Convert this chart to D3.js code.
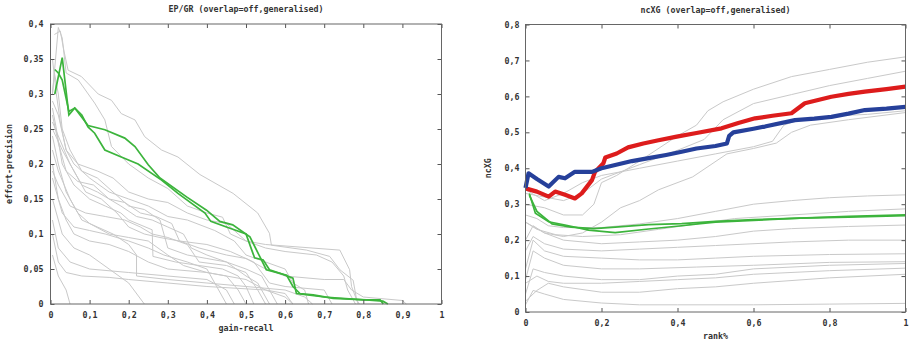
<!DOCTYPE html>
<html>
<head>
<meta charset="utf-8">
<script src="https://cdn.jsdelivr.net/npm/d3@7"></script>
<style>
  body { margin: 0; background: #fff; }
  text { font-family: "DejaVu Sans Mono", monospace; font-weight: bold; font-size: 8.3px; fill: #333; }
  .frame { fill: none; stroke: #666; stroke-width: 1; }
</style>
</head>
<body>
<svg id="chart" width="913" height="341"></svg>
<script>
// ---- left panel: EP/GR
var epTicksX = [0, 0.1, 0.2, 0.3, 0.4, 0.5, 0.6, 0.7, 0.8, 0.9, 1];
var epTickLabelsX = ["0", "0,1", "0,2", "0,3", "0,4", "0,5", "0,6", "0,7", "0,8", "0,9", "1"];
var epTicksY = [0, 0.05, 0.1, 0.15, 0.2, 0.25, 0.3, 0.35, 0.4];
var epTickLabelsY = ["0", "0,05", "0,1", "0,15", "0,2", "0,25", "0,3", "0,35", "0,4"];

var epGreen = [
  [[0.011,0.30],[0.03,0.352],[0.047,0.27],[0.062,0.28],[0.08,0.27],[0.096,0.253],[0.113,0.244],[0.139,0.22],[0.181,0.21],[0.224,0.2],[0.284,0.177],[0.326,0.158],[0.395,0.13],[0.41,0.118],[0.45,0.11],[0.5,0.1],[0.518,0.072],[0.522,0.066],[0.544,0.063],[0.56,0.049],[0.587,0.044],[0.62,0.037],[0.629,0.015],[0.7,0.01],[0.8,0.006],[0.843,0.006],[0.851,0]],
  [[0.011,0.335],[0.02,0.33],[0.03,0.32],[0.047,0.275],[0.062,0.28],[0.096,0.255],[0.139,0.249],[0.19,0.237],[0.216,0.225],[0.25,0.199],[0.28,0.18],[0.348,0.153],[0.399,0.134],[0.433,0.118],[0.466,0.113],[0.51,0.096],[0.535,0.068],[0.552,0.049],[0.604,0.041],[0.62,0.025],[0.638,0.015],[0.672,0.013],[0.723,0.008],[0.808,0.006],[0.85,0.004],[0.863,0]]
];

var epGray = [
  [[0.01,0.385],[0.025,0.39],[0.035,0.36],[0.045,0.334],[0.079,0.325],[0.122,0.3],[0.156,0.291],[0.181,0.272],[0.216,0.263],[0.241,0.239],[0.284,0.22],[0.326,0.21],[0.382,0.185],[0.467,0.158],[0.53,0.13],[0.56,0.101],[0.565,0.084],[0.655,0.077],[0.714,0.068],[0.74,0.049],[0.774,0.034],[0.783,0.006],[0.79,0]],
  [[0.005,0.3],[0.02,0.395],[0.03,0.38],[0.04,0.33],[0.071,0.32],[0.113,0.287],[0.139,0.263],[0.156,0.225],[0.2,0.2],[0.25,0.18],[0.3,0.165],[0.35,0.14],[0.4,0.13],[0.44,0.124],[0.46,0.1],[0.5,0.09],[0.55,0.085],[0.74,0.077],[0.765,0.049],[0.77,0.025],[0.787,0]],
  [[0.005,0.29],[0.02,0.27],[0.04,0.22],[0.06,0.2],[0.1,0.18],[0.15,0.16],[0.2,0.15],[0.25,0.14],[0.3,0.125],[0.35,0.12],[0.42,0.105],[0.47,0.09],[0.5,0.07],[0.55,0.06],[0.6,0.05],[0.62,0.03],[0.65,0.02],[0.66,0]],
  [[0.005,0.26],[0.02,0.24],[0.05,0.2],[0.08,0.17],[0.12,0.16],[0.18,0.14],[0.22,0.125],[0.26,0.12],[0.3,0.11],[0.34,0.1],[0.36,0.08],[0.4,0.07],[0.45,0.06],[0.5,0.04],[0.53,0.03],[0.56,0]],
  [[0.005,0.28],[0.015,0.25],[0.03,0.2],[0.06,0.17],[0.1,0.15],[0.14,0.14],[0.18,0.13],[0.2,0.12],[0.26,0.106],[0.262,0.068],[0.32,0.06],[0.38,0.055],[0.44,0.05],[0.48,0.04],[0.5,0.025],[0.52,0]],
  [[0.005,0.24],[0.02,0.2],[0.04,0.16],[0.07,0.13],[0.1,0.115],[0.15,0.1],[0.2,0.095],[0.25,0.09],[0.3,0.07],[0.34,0.055],[0.4,0.045],[0.45,0.04],[0.48,0.02],[0.5,0]],
  [[0.005,0.2],[0.02,0.15],[0.04,0.12],[0.06,0.1],[0.1,0.09],[0.15,0.085],[0.2,0.075],[0.25,0.06],[0.3,0.05],[0.4,0.045],[0.5,0.035],[0.55,0.02],[0.6,0.015],[0.62,0]],
  [[0.005,0.12],[0.02,0.08],[0.05,0.06],[0.1,0.05],[0.2,0.045],[0.3,0.04],[0.4,0.035],[0.45,0.02],[0.47,0]],
  [[0.005,0.07],[0.02,0.04],[0.04,0.02],[0.05,0]],
  [[0.005,0.15],[0.03,0.1],[0.06,0.08],[0.1,0.07],[0.15,0.05],[0.2,0.03],[0.24,0]],
  [[0.005,0.3],[0.01,0.33],[0.02,0.3],[0.03,0.25],[0.05,0.22],[0.08,0.19],[0.12,0.18],[0.16,0.16],[0.2,0.14],[0.24,0.135],[0.28,0.12],[0.3,0.08],[0.35,0.07],[0.4,0.065],[0.45,0.06],[0.5,0.05],[0.54,0.04],[0.56,0.02],[0.58,0]],
  [[0.005,0.25],[0.03,0.22],[0.06,0.19],[0.09,0.16],[0.13,0.15],[0.17,0.13],[0.2,0.11],[0.24,0.1],[0.28,0.095],[0.33,0.09],[0.38,0.08],[0.45,0.07],[0.5,0.065],[0.55,0.05],[0.6,0.04],[0.7,0.035],[0.75,0.035],[0.77,0.02],[0.8,0.01],[0.9,0.005],[0.91,0]],
  [[0.005,0.22],[0.02,0.19],[0.05,0.15],[0.08,0.12],[0.12,0.11],[0.16,0.1],[0.2,0.085],[0.22,0.07],[0.22,0.04],[0.3,0.035],[0.4,0.03],[0.5,0.025],[0.6,0.02],[0.65,0.01],[0.67,0]],
  [[0.005,0.35],[0.015,0.3],[0.025,0.26],[0.04,0.22],[0.07,0.2],[0.12,0.19],[0.16,0.18],[0.2,0.16],[0.25,0.15],[0.3,0.145],[0.35,0.13],[0.4,0.12],[0.45,0.115],[0.48,0.1],[0.5,0.09],[0.55,0.08],[0.6,0.075],[0.68,0.07],[0.72,0.06],[0.75,0.04],[0.76,0.02],[0.78,0]],
  [[0.005,0.18],[0.03,0.13],[0.06,0.11],[0.1,0.105],[0.14,0.1],[0.2,0.09],[0.25,0.08],[0.29,0.07],[0.35,0.06],[0.4,0.05],[0.42,0.03],[0.44,0.01],[0.45,0]],
  [[0.005,0.1],[0.02,0.06],[0.04,0.045],[0.08,0.04],[0.15,0.038],[0.2,0.035],[0.3,0.03],[0.4,0.025],[0.55,0.02],[0.6,0.01],[0.62,0]],
  [[0.005,0.27],[0.02,0.23],[0.04,0.19],[0.07,0.175],[0.11,0.17],[0.15,0.15],[0.19,0.145],[0.23,0.13],[0.27,0.125],[0.31,0.115],[0.33,0.09],[0.4,0.085],[0.46,0.075],[0.52,0.06],[0.56,0.03],[0.6,0.025],[0.7,0.02],[0.72,0]],
  [[0.005,0.19],[0.02,0.17],[0.05,0.14],[0.09,0.13],[0.14,0.125],[0.19,0.12],[0.23,0.11],[0.26,0.1],[0.3,0.095],[0.35,0.085],[0.38,0.06],[0.45,0.055],[0.5,0.045],[0.53,0.02],[0.55,0]]
];

// ---- right panel: ncXG
var ncTicksX = [0, 0.2, 0.4, 0.6, 0.8, 1];
var ncTickLabelsX = ["0", "0,2", "0,4", "0,6", "0,8", "1"];
var ncTicksY = [0, 0.1, 0.2, 0.3, 0.4, 0.5, 0.6, 0.7, 0.8];
var ncTickLabelsY = ["0", "0,1", "0,2", "0,3", "0,4", "0,5", "0,6", "0,7", "0,8"];

var ncRed = [[0,0.344],[0.03,0.335],[0.061,0.321],[0.078,0.335],[0.104,0.326],[0.13,0.316],[0.148,0.33],[0.175,0.367],[0.183,0.39],[0.205,0.414],[0.21,0.43],[0.24,0.441],[0.27,0.458],[0.31,0.469],[0.35,0.478],[0.398,0.488],[0.45,0.498],[0.516,0.511],[0.56,0.526],[0.604,0.539],[0.65,0.546],[0.7,0.553],[0.735,0.581],[0.77,0.59],[0.805,0.599],[0.85,0.607],[0.893,0.613],[0.95,0.62],[1,0.627]];
var ncBlue = [[0,0.345],[0.008,0.386],[0.03,0.37],[0.061,0.349],[0.087,0.376],[0.104,0.372],[0.13,0.39],[0.175,0.39],[0.2,0.4],[0.236,0.409],[0.28,0.42],[0.324,0.428],[0.37,0.437],[0.411,0.446],[0.45,0.455],[0.5,0.462],[0.53,0.469],[0.536,0.49],[0.547,0.5],[0.6,0.51],[0.63,0.516],[0.709,0.534],[0.76,0.538],[0.805,0.543],[0.85,0.552],[0.893,0.562],[0.95,0.566],[1,0.571]];
var ncGreen = [
  [[0.01,0.33],[0.026,0.275],[0.061,0.251],[0.104,0.242],[0.166,0.228],[0.236,0.221],[0.324,0.231],[0.411,0.24],[0.46,0.246],[0.5,0.25],[0.6,0.255],[0.722,0.261],[0.85,0.266],[1,0.27]],
  [[0.01,0.325],[0.03,0.28],[0.07,0.245],[0.12,0.236],[0.18,0.232],[0.236,0.236],[0.324,0.243],[0.411,0.246],[0.5,0.252],[0.6,0.257],[0.722,0.261],[0.85,0.264],[1,0.268]]
];
var ncGray = [
  [[0,0.3],[0.05,0.29],[0.1,0.27],[0.15,0.27],[0.18,0.3],[0.2,0.36],[0.24,0.38],[0.3,0.42],[0.4,0.49],[0.45,0.52],[0.48,0.56],[0.52,0.585],[0.6,0.62],[0.7,0.655],[0.8,0.675],[0.9,0.695],[1,0.71]],
  [[0,0.33],[0.05,0.32],[0.1,0.31],[0.15,0.33],[0.2,0.37],[0.3,0.41],[0.4,0.45],[0.47,0.48],[0.52,0.535],[0.6,0.58],[0.7,0.605],[0.8,0.63],[0.9,0.65],[1,0.67]],
  [[0,0.25],[0.05,0.22],[0.1,0.21],[0.15,0.22],[0.2,0.25],[0.25,0.29],[0.3,0.31],[0.35,0.34],[0.44,0.376],[0.53,0.44],[0.6,0.455],[0.66,0.47],[0.7,0.5],[0.75,0.52],[0.85,0.535],[1,0.555]],
  [[0,0.34],[0.05,0.31],[0.1,0.33],[0.15,0.36],[0.2,0.38],[0.3,0.4],[0.4,0.42],[0.5,0.44],[0.6,0.46],[0.65,0.475],[0.68,0.52],[0.72,0.535],[0.8,0.545],[0.9,0.55],[1,0.56]],
  [[0,0.27],[0.03,0.26],[0.06,0.24],[0.1,0.235],[0.2,0.235],[0.3,0.245],[0.4,0.26],[0.5,0.28],[0.6,0.3],[0.7,0.31],[0.8,0.318],[0.9,0.323],[1,0.326]],
  [[0,0.25],[0.03,0.23],[0.08,0.215],[0.15,0.21],[0.25,0.215],[0.35,0.23],[0.45,0.245],[0.55,0.26],[0.7,0.27],[0.85,0.28],[1,0.287]],
  [[0,0.2],[0.02,0.24],[0.05,0.22],[0.1,0.2],[0.2,0.19],[0.3,0.195],[0.4,0.2],[0.5,0.21],[0.6,0.225],[0.7,0.232],[0.85,0.238],[1,0.242]],
  [[0,0.17],[0.02,0.21],[0.05,0.19],[0.1,0.175],[0.2,0.17],[0.3,0.175],[0.4,0.18],[0.5,0.185],[0.7,0.195],[0.85,0.2],[1,0.2]],
  [[0,0.12],[0.02,0.2],[0.05,0.17],[0.1,0.155],[0.2,0.15],[0.3,0.145],[0.4,0.145],[0.5,0.15],[0.6,0.155],[0.8,0.16],[1,0.162]],
  [[0,0.09],[0.02,0.17],[0.05,0.15],[0.1,0.13],[0.2,0.12],[0.3,0.12],[0.45,0.125],[0.6,0.13],[0.8,0.138],[1,0.14]],
  [[0,0.05],[0.02,0.12],[0.05,0.11],[0.1,0.1],[0.2,0.09],[0.3,0.09],[0.4,0.1],[0.5,0.105],[0.6,0.12],[0.8,0.13],[1,0.135]],
  [[0,0.08],[0.03,0.1],[0.06,0.085],[0.1,0.08],[0.2,0.08],[0.3,0.085],[0.4,0.09],[0.5,0.095],[0.6,0.105],[0.8,0.115],[1,0.122]],
  [[0,0.03],[0.03,0.06],[0.06,0.08],[0.1,0.07],[0.2,0.055],[0.3,0.055],[0.4,0.065],[0.5,0.07],[0.6,0.08],[0.8,0.095],[1,0.105]],
  [[0,0.02],[0.02,0.06],[0.05,0.05],[0.1,0.035],[0.2,0.025],[0.3,0.02],[0.4,0.02],[0.6,0.02],[0.8,0.022],[1,0.024]]
];

var svg = d3.select("#chart");

function panel(opt) {
  var x = d3.scaleLinear().domain([0, 1]).range([opt.left, opt.right]);
  var y = d3.scaleLinear().domain([0, opt.ymax]).range([opt.bottom, opt.top]);
  var g = svg.append("g");
  var line = d3.line().x(function(d) { return x(d[0]); }).y(function(d) { return y(d[1]); });

  g.selectAll(".gray").data(opt.gray).enter().append("path")
    .attr("d", line).attr("fill", "none")
    .attr("stroke", "#c9c9c9").attr("stroke-width", 1);

  opt.thick.forEach(function(s) {
    g.append("path").datum(s.data).attr("d", line).attr("fill", "none")
      .attr("stroke", s.color).attr("stroke-width", 4.2).attr("stroke-linejoin", "round");
  });

  g.selectAll(".green").data(opt.green).enter().append("path")
    .attr("d", line).attr("fill", "none")
    .attr("stroke", "#3cb43c").attr("stroke-width", 1.7);

  // axes: ticks inward on all four sides, like gnuplot
  var ax = g.append("g");
  ax.append("g").attr("transform", "translate(0," + opt.bottom + ")")
    .call(d3.axisBottom(x).tickValues(opt.xt).tickSize(-4).tickPadding(8)
      .tickFormat(function(d, i) { return opt.xl[i]; }));
  ax.append("g").attr("transform", "translate(0," + opt.top + ")")
    .call(d3.axisTop(x).tickValues(opt.xt).tickSize(-4).tickFormat(""));
  ax.append("g").attr("transform", "translate(" + opt.left + ",0)")
    .call(d3.axisLeft(y).tickValues(opt.yt).tickSize(-4).tickPadding(opt.ypad)
      .tickFormat(function(d, i) { return opt.yl[i]; }));
  ax.append("g").attr("transform", "translate(" + opt.right + ",0)")
    .call(d3.axisRight(y).tickValues(opt.yt).tickSize(-4).tickFormat(""));
  ax.selectAll(".domain").remove();
  ax.selectAll(".tick line").attr("stroke", "#555");
  ax.selectAll(".tick text").attr("fill", "#333").style("font-size", "8.3px")
    .style("font-family", "DejaVu Sans Mono, monospace").style("font-weight", "bold");

  g.append("rect").attr("class", "frame")
    .attr("x", opt.left).attr("y", opt.top)
    .attr("width", opt.right - opt.left).attr("height", opt.bottom - opt.top);

  g.append("text").attr("x", (opt.left + opt.right) / 2).attr("y", opt.titleY)
    .attr("text-anchor", "middle").text(opt.title);
  g.append("text").attr("x", (opt.left + opt.right) / 2).attr("y", opt.xlabY)
    .attr("text-anchor", "middle").text(opt.xlab);
  g.append("text").attr("transform", "translate(" + opt.ylabX + "," + (opt.top + opt.bottom) / 2 + ") rotate(-90)")
    .attr("text-anchor", "middle").text(opt.ylab);
}

panel({
  left: 50.5, right: 441.5, top: 24, bottom: 304, ymax: 0.4,
  xt: epTicksX, xl: epTickLabelsX, yt: epTicksY, yl: epTickLabelsY, ypad: 7,
  gray: epGray, green: epGreen, thick: [],
  title: "EP/GR (overlap=off,generalised)", titleY: 12,
  xlab: "gain-recall", xlabY: 331, ylab: "effort-precision", ylabX: 12
});

panel({
  left: 525.5, right: 905.5, top: 24.5, bottom: 312, ymax: 0.8,
  xt: ncTicksX, xl: ncTickLabelsX, yt: ncTicksY, yl: ncTickLabelsY, ypad: 6,
  gray: ncGray, green: ncGreen,
  thick: [{data: ncRed, color: "#dd1c1c"}, {data: ncBlue, color: "#26409a"}],
  title: "ncXG (overlap=off,generalised)", titleY: 13,
  xlab: "rank%", xlabY: 339, ylab: "ncXG", ylabX: 491
});
</script>
</body>
</html>
